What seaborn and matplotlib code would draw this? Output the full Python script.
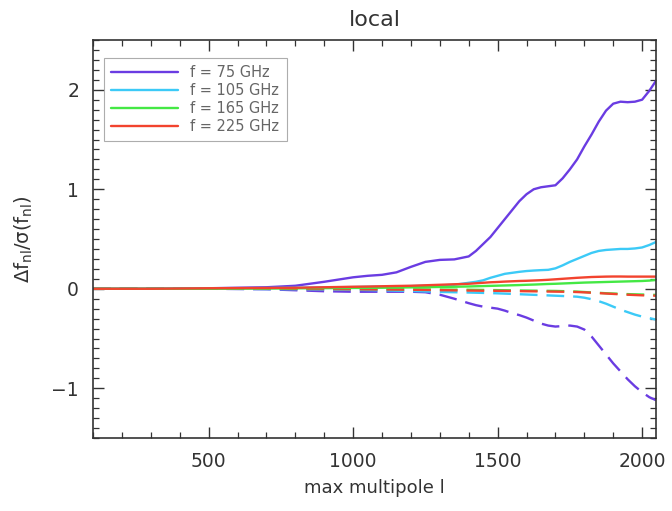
import numpy as np
import pandas as pd
import matplotlib
matplotlib.use("Agg")
import matplotlib.pyplot as plt
from matplotlib.lines import Line2D
from matplotlib.ticker import MultipleLocator
import seaborn as sns

# ---- data ----
ell = [100, 300, 500, 700, 800, 900, 1000, 1050, 1100, 1150, 1200, 1250, 1300,
       1350, 1400, 1425, 1450, 1475, 1500, 1525, 1550, 1575, 1600, 1625, 1650,
       1675, 1700, 1725, 1750, 1775, 1800, 1825, 1850, 1875, 1900, 1925, 1950,
       1975, 2000, 2025, 2048]

f75_solid = [0.0, 0.0, 0.005, 0.015, 0.03, 0.07, 0.115, 0.13, 0.14, 0.165, 0.22,
             0.27, 0.29, 0.295, 0.325, 0.38, 0.45, 0.52, 0.61, 0.70, 0.79, 0.88,
             0.95, 1.00, 1.02, 1.03, 1.04, 1.11, 1.20, 1.30, 1.43, 1.55, 1.68,
             1.79, 1.86, 1.88, 1.875, 1.88, 1.90, 1.99, 2.09]
f75_dashed = [0.0, 0.0, 0.0, -0.005, -0.015, -0.025, -0.03, -0.03, -0.03, -0.03,
              -0.03, -0.035, -0.06, -0.10, -0.145, -0.165, -0.18, -0.19, -0.20,
              -0.22, -0.245, -0.265, -0.29, -0.32, -0.35, -0.37, -0.38, -0.375,
              -0.37, -0.38, -0.41, -0.48, -0.57, -0.66, -0.75, -0.83, -0.91,
              -0.98, -1.04, -1.09, -1.12]
f105_solid = [0.0, 0.0, 0.003, 0.007, 0.01, 0.013, 0.017, 0.02, 0.022, 0.025,
              0.027, 0.03, 0.033, 0.04, 0.06, 0.07, 0.085, 0.11, 0.13, 0.15, 0.16,
              0.17, 0.178, 0.183, 0.187, 0.19, 0.205, 0.235, 0.27, 0.30, 0.33,
              0.36, 0.38, 0.39, 0.395, 0.40, 0.40, 0.405, 0.415, 0.44, 0.47]
f105_dashed = [0.0, 0.0, 0.0, -0.003, -0.005, -0.008, -0.01, -0.013, -0.016,
               -0.019, -0.022, -0.027, -0.032, -0.035, -0.038, -0.04, -0.042,
               -0.044, -0.046, -0.049, -0.052, -0.055, -0.058, -0.061, -0.064,
               -0.067, -0.07, -0.073, -0.076, -0.08, -0.09, -0.105, -0.125, -0.15,
               -0.18, -0.21, -0.235, -0.26, -0.28, -0.295, -0.31]
f165_solid = [0.0, 0.0, 0.0, 0.002, 0.004, 0.006, 0.008, 0.009, 0.01, 0.012, 0.014,
              0.016, 0.018, 0.02, 0.023, 0.025, 0.027, 0.029, 0.031, 0.033, 0.035,
              0.037, 0.04, 0.042, 0.045, 0.048, 0.05, 0.053, 0.056, 0.059, 0.062,
              0.064, 0.066, 0.068, 0.07, 0.072, 0.074, 0.076, 0.078, 0.082, 0.088]
f165_dashed = [0.0, 0.0, 0.0, 0.0, 0.0, -0.001, -0.002, -0.003, -0.004, -0.005,
               -0.006, -0.007, -0.008, -0.009, -0.01, -0.011, -0.012, -0.013,
               -0.014, -0.015, -0.016, -0.017, -0.018, -0.019, -0.02, -0.021,
               -0.022, -0.024, -0.026, -0.029, -0.033, -0.037, -0.041, -0.045,
               -0.048, -0.051, -0.054, -0.056, -0.058, -0.06, -0.062]
f225_solid = [0.0, 0.0, 0.005, 0.008, 0.01, 0.015, 0.02, 0.022, 0.025, 0.028, 0.03,
              0.035, 0.04, 0.045, 0.05, 0.055, 0.06, 0.065, 0.068, 0.072, 0.075,
              0.078, 0.08, 0.083, 0.086, 0.09, 0.095, 0.10, 0.105, 0.11, 0.114,
              0.118, 0.12, 0.122, 0.123, 0.123, 0.122, 0.122, 0.122, 0.122, 0.122]
f225_dashed = [0.0, 0.0, 0.0, 0.0, -0.002, -0.003, -0.005, -0.006, -0.007, -0.008,
               -0.01, -0.012, -0.014, -0.016, -0.018, -0.019, -0.02, -0.02, -0.021,
               -0.022, -0.023, -0.024, -0.025, -0.026, -0.027, -0.028, -0.029,
               -0.03, -0.031, -0.033, -0.036, -0.04, -0.044, -0.048, -0.052,
               -0.056, -0.06, -0.063, -0.066, -0.068, -0.07]

freq_labels = ["f = 75 GHz", "f = 105 GHz", "f = 165 GHz", "f = 225 GHz"]
colors = ["#6a3ce2", "#3ccaf7", "#44e844", "#f2432e"]

series = {
    ("f = 75 GHz", "solid"): f75_solid, ("f = 75 GHz", "dashed"): f75_dashed,
    ("f = 105 GHz", "solid"): f105_solid, ("f = 105 GHz", "dashed"): f105_dashed,
    ("f = 165 GHz", "solid"): f165_solid, ("f = 165 GHz", "dashed"): f165_dashed,
    ("f = 225 GHz", "solid"): f225_solid, ("f = 225 GHz", "dashed"): f225_dashed,
}
rows = []
for (fl, kind), vals in series.items():
    n = min(len(ell), len(vals))
    for l, v in zip(ell[:n], vals[:n]):
        rows.append({"ell": l, "val": v, "freq": fl, "kind": kind})
df = pd.DataFrame(rows)

# ---- plot ----
sns.set_style("white")
plt.rcParams["font.family"] = ["DejaVu Sans"]
plt.rcParams["mathtext.fontset"] = "dejavusans"

fig = plt.figure(figsize=(6.72, 5.11), dpi=100)
ax = fig.add_axes([93 / 672, 1 - 438 / 511, (656 - 93) / 672, (438 - 40) / 511])

palette = dict(zip(freq_labels, colors))
# dashed lines first, solid on top
for kind in ["dashed", "solid"]:
    sub = df[df["kind"] == kind]
    sns.lineplot(data=sub, x="ell", y="val", hue="freq", hue_order=freq_labels,
                 palette=palette, estimator=None, sort=False, legend=False,
                 linewidth=1.7, ax=ax,
                 linestyle="--" if kind == "dashed" else "-")
for line in ax.get_lines():
    if line.get_linestyle() == "--":
        line.set_dashes((7.5, 3.8))

ax.set_xlim(100, 2048)
ax.set_ylim(-1.5, 2.5)
ax.xaxis.set_major_locator(MultipleLocator(500))
ax.xaxis.set_minor_locator(MultipleLocator(100))
ax.yaxis.set_major_locator(MultipleLocator(1))
ax.yaxis.set_minor_locator(MultipleLocator(0.1))
ax.tick_params(which="both", direction="in", top=True, right=True,
               bottom=True, left=True,
               colors="#333333", labelcolor="#333333")
ax.tick_params(which="major", length=8, width=1.0, labelsize=13.5, pad=10)
ax.tick_params(which="minor", length=4, width=0.9)
for sp in ax.spines.values():
    sp.set_color("#333333")
    sp.set_linewidth(1.2)

ax.set_xlabel("max multipole l", fontsize=13, color="#333333", labelpad=6)
ax.set_ylabel(r"$\mathregular{\Delta f_{nl}/\sigma(f_{nl})}$", fontsize=14,
              color="#333333", labelpad=12)
ax.set_title("local", fontsize=16, color="#333333", pad=10)

handles = [Line2D([0], [0], color=c, lw=1.7) for c in colors]
leg = ax.legend(handles, freq_labels, loc="upper left",
                bbox_to_anchor=(0.019, 0.955), fontsize=10.5, frameon=True,
                fancybox=False, edgecolor="#999999", handlelength=4.6,
                handletextpad=0.85, labelspacing=0.2, borderpad=0.5,
                borderaxespad=0.0)
for t in leg.get_texts():
    t.set_color("#666666")
leg.get_frame().set_linewidth(0.8)

fig.savefig("out.png", dpi=100)
